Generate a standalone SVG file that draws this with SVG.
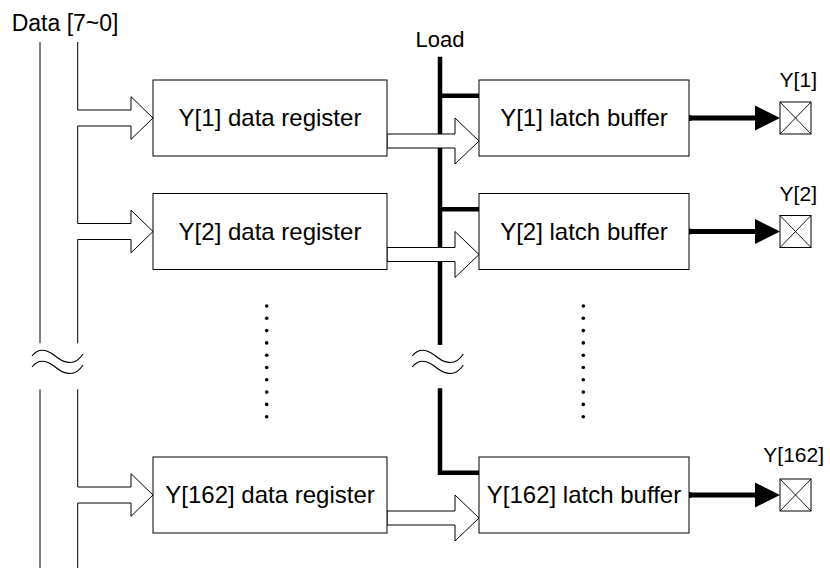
<svg xmlns="http://www.w3.org/2000/svg" width="830" height="568" viewBox="0 0 830 568">
<style>
text{font-family:"Liberation Sans",Arial,sans-serif;fill:#000}
.box{fill:#fff;stroke:#000;stroke-width:1}
.bt{font-size:24px;text-anchor:middle}
.lbl{font-size:21px;text-anchor:middle}
.thin{fill:none;stroke:#000;stroke-width:1}
.bus{fill:#fff;stroke:#000;stroke-width:1}
.load{fill:none;stroke:#000;stroke-width:4.5;stroke-linejoin:miter}
.out{fill:none;stroke:#000;stroke-width:5}
.dot{fill:#000}
</style>
<defs>
<g id="pin">
<rect x="0" y="0" width="31" height="32" fill="#fff" stroke="#000" stroke-width="1"/>
<path d="M0,0 L31,32 M31,0 L0,32" fill="none" stroke="#000" stroke-width="0.9"/>
</g>
<path id="wave" d="M0,0 C6,-8 14,-7 22,-1 C30,6 42,12 51,-2" fill="none" stroke="#000" stroke-width="1.1"/>
</defs>

<text x="11.7" y="31" style="font-size:23px">Data [7~0]</text>
<text x="440" y="47" style="font-size:22px;text-anchor:middle">Load</text>

<g id="connectors">
<!-- data bus lines -->
<path class="thin" d="M40,42 V343.3 M40,389.3 V568"/>
<path class="thin" d="M77.7,42 V110 H131 V96.7 L153,118 L131,139.3 V126 H77.7 V223.5 H131 V210.2 L153,231.5 L131,252.8 V239.5 H77.7 V343.3 M77.7,389.3 V487 H131 V473.7 L153,495 L131,516.3 V503 H77.7 V568"/>
<!-- load line -->
<path class="load" d="M440,56.7 V345 M440,388.3 V472.7 H479"/>
<path class="load" d="M440,95.7 H479 M440,209.2 H479"/>
<path class="thin" d="M479,90.7 L486,95.7 L479,100.7 M479,204.2 L486,209.2 L479,214.2 M479,467.7 L486,472.7 L479,477.7"/>
<!-- register to latch buses -->
<path class="bus" d="M387,134 H455 V118 L479,141 L455,164 V148 H387 Z"/>
<path class="bus" d="M387,247.5 H455 V231.5 L479,254.5 L455,277.5 V261.5 H387 Z"/>
<path class="bus" d="M387,511 H455 V495 L479,518 L455,541 V525 H387 Z"/>
<!-- outputs -->
<path class="out" d="M689,118 H757 M689,231.5 H757 M689,495 H757"/>
<circle class="dot" cx="689.5" cy="118" r="3"/>
<circle class="dot" cx="689.5" cy="231.5" r="3"/>
<circle class="dot" cx="689.5" cy="495" r="3"/>
<path class="dot" d="M755,105.5 L780,118 L755,130.5 Z M755,219 L780,231.5 L755,244 Z M755,482.5 L780,495 L755,507.5 Z"/>
<!-- break marks -->
<use href="#wave" x="32" y="356"/>
<use href="#wave" x="32" y="367"/>
<use href="#wave" x="412.3" y="356"/>
<use href="#wave" x="412.3" y="367"/>
</g>

<g id="reg1"><rect class="box" x="153" y="80" width="234" height="76"/><text class="bt" x="270" y="126">Y[1] data register</text></g>
<g id="reg2"><rect class="box" x="153" y="193.5" width="234" height="76"/><text class="bt" x="270" y="239.5">Y[2] data register</text></g>
<g id="reg162"><rect class="box" x="153" y="457" width="234" height="76"/><text class="bt" x="270" y="503">Y[162] data register</text></g>

<g id="latch1"><rect class="box" x="479" y="80" width="210" height="76"/><text class="bt" x="584" y="126">Y[1] latch buffer</text></g>
<g id="latch2"><rect class="box" x="479" y="193.5" width="210" height="76"/><text class="bt" x="584" y="239.5">Y[2] latch buffer</text></g>
<g id="latch162"><rect class="box" x="479" y="457" width="210" height="76"/><text class="bt" x="584" y="503">Y[162] latch buffer</text></g>

<g id="pin1"><use href="#pin" x="780" y="102"/><text class="lbl" x="798.3" y="87">Y[1]</text></g>
<g id="pin2"><use href="#pin" x="780" y="215.5"/><text class="lbl" x="798.3" y="201">Y[2]</text></g>
<g id="pin162"><use href="#pin" x="780" y="479"/><text class="lbl" x="793.7" y="462">Y[162]</text></g>

<g id="dots">
<circle class="dot" cx="266.7" cy="306" r="1.8"/><circle class="dot" cx="266.7" cy="318.3" r="1.8"/><circle class="dot" cx="266.7" cy="330.6" r="1.8"/><circle class="dot" cx="266.7" cy="342.9" r="1.8"/><circle class="dot" cx="266.7" cy="355.2" r="1.8"/><circle class="dot" cx="266.7" cy="367.5" r="1.8"/><circle class="dot" cx="266.7" cy="379.8" r="1.8"/><circle class="dot" cx="266.7" cy="392.1" r="1.8"/><circle class="dot" cx="266.7" cy="404.4" r="1.8"/><circle class="dot" cx="266.7" cy="416.7" r="1.8"/>
<circle class="dot" cx="583.3" cy="306" r="1.8"/><circle class="dot" cx="583.3" cy="318.3" r="1.8"/><circle class="dot" cx="583.3" cy="330.6" r="1.8"/><circle class="dot" cx="583.3" cy="342.9" r="1.8"/><circle class="dot" cx="583.3" cy="355.2" r="1.8"/><circle class="dot" cx="583.3" cy="367.5" r="1.8"/><circle class="dot" cx="583.3" cy="379.8" r="1.8"/><circle class="dot" cx="583.3" cy="392.1" r="1.8"/><circle class="dot" cx="583.3" cy="404.4" r="1.8"/><circle class="dot" cx="583.3" cy="416.7" r="1.8"/>
</g>
</svg>
